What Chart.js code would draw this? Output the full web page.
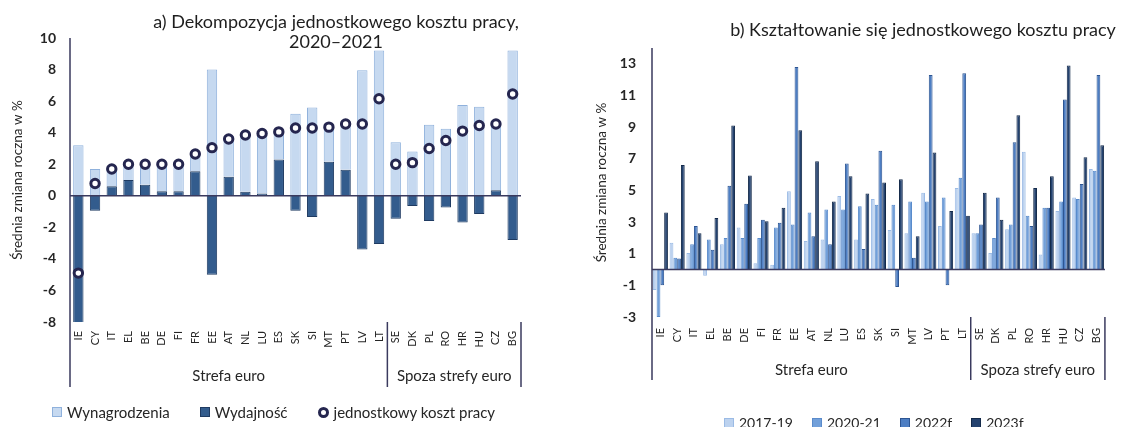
<!DOCTYPE html>
<html lang="pl">
<head>
<meta charset="utf-8">
<script src="https://cdn.jsdelivr.net/npm/chart.js@4.4.1/dist/chart.umd.min.js"></script>
<style>
body { margin: 0; background: #fff; font-family: Lato, sans-serif; }
#wrap { position: relative; width: 1121px; height: 427px; overflow: hidden; }
.box { position: absolute; top: 0; height: 427px; }
#boxA { left: 0; width: 560px; }
#boxB { left: 570px; width: 551px; }
.legend { position: absolute; display: flex; align-items: center; font-size: 14px; color: #262626; white-space: nowrap; }
.legend .item { display: flex; align-items: center; }
.legend i { display: inline-block; box-sizing: border-box; width: 10px; height: 10px; margin-right: 5px; border: 1px solid; }
.legend i.dot { border-radius: 50%; border-width: 3px; width: 11px; height: 11px; background: #fff; }
</style>
</head>
<body>
<div id="wrap">
  <div class="box" id="boxA"><canvas id="chartA"></canvas></div>
  <div class="box" id="boxB"><canvas id="chartB"></canvas></div>
  <div class="legend" id="legendA" style="left:52px; top:403px; font-size:15px;"></div>
  <div class="legend" id="legendB" style="left:724px; top:414px;"></div>
</div>
<script>
// a) dekompozycja 2020-2021
const krajeA = ["IE","CY","IT","EL","BE","DE","FI","FR","EE","AT","NL","LU","ES","SK","SI","MT","PT","LV","LT","SE","DK","PL","RO","HR","HU","CZ","BG"];
const wynagrodzenia = [3.2, 1.7, 1.1, 1.0, 1.3, 1.7, 1.7, 1.1, 8.0, 2.55, 3.65, 3.8, 1.8, 5.2, 5.6, 2.2, 2.9, 7.95, 9.2, 3.4, 2.8, 4.5, 4.25, 5.75, 5.65, 4.25, 9.2];
const wydajnosc = [-8.1, -0.95, 0.6, 1.0, 0.7, 0.28, 0.28, 1.55, -5.0, 1.2, 0.25, 0.15, 2.3, -0.95, -1.35, 2.15, 1.65, -3.4, -3.05, -1.45, -0.65, -1.6, -0.75, -1.7, -1.15, 0.35, -2.8];
const jkp = [-4.9, 0.78, 1.7, 2.0, 2.0, 2.0, 2.0, 2.65, 3.05, 3.6, 3.85, 3.95, 4.05, 4.3, 4.3, 4.35, 4.55, 4.55, 6.15, 2.0, 2.1, 3.0, 3.5, 4.1, 4.45, 4.55, 6.45];
const ticksA = [-8, -6, -4, -2, 0, 2, 4, 6, 8, 10];

// b) ksztaltowanie sie jednostkowego kosztu pracy
const krajeB = ["IE","CY","IT","EL","BE","DE","FI","FR","EE","AT","NL","LU","ES","SK","SI","MT","LV","PT","LT","SE","DK","PL","RO","HR","HU","CZ","BG"];
const lata = ["2017-19", "2020-21", "2022f", "2023f"];
const k2017_19 = [-1.3, 1.7, 1.05, -0.4, 1.6, 2.65, 0.4, 0.3, 4.95, 1.8, 1.9, 4.65, 1.9, 4.45, 2.5, 2.3, 4.85, 2.75, 5.15, 2.3, 1.05, 2.55, 7.45, 0.95, 3.7, 4.55, 6.35];
const k2020_21 = [-3.0, 0.75, 1.6, 1.9, 2.0, 2.0, 2.0, 2.65, 2.85, 3.6, 3.8, 3.8, 4.0, 4.1, 4.1, 4.3, 4.3, 4.55, 5.8, 2.3, 2.0, 2.85, 3.4, 3.9, 4.3, 4.45, 6.25];
const k2022f = [-1.0, 0.7, 2.75, 1.25, 5.3, 4.15, 3.15, 2.95, 12.8, 2.1, 1.6, 6.7, 1.3, 7.5, -1.1, 0.75, 12.3, -1.0, 12.4, 2.85, 4.55, 8.05, 2.75, 3.9, 10.75, 5.4, 12.3];
const k2023f = [3.6, 6.6, 2.3, 3.25, 9.1, 5.95, 3.05, 3.9, 8.8, 6.85, 4.3, 5.9, 4.8, 5.5, 5.7, 2.1, 7.4, 3.7, 3.4, 4.85, 3.15, 9.75, 5.15, 5.9, 12.9, 7.1, 7.85];
const ticksB = [-3, -1, 1, 3, 5, 7, 9, 11, 13];

const grupy = ["Strefa euro", "Spoza strefy euro"];
const grupyIle = [19, 8];

const osX = "#3a3a5e";

/*linia zero, os pionowa i podzial na grupy krajow*/
const osiePlugin = {
    id: "osie",
    afterDatasetsDraw(chart, args, o) {
        const ctx = chart.ctx;
        const area = chart.chartArea;
        const x = chart.scales.x, y = chart.scales.y;
        const pol = (x.getPixelForValue(1) - x.getPixelForValue(0)) / 2;
        const dol = area.bottom + o.glebokosc;
        ctx.save();
        ctx.strokeStyle = osX;
        ctx.lineWidth = 1.5;
        const y0 = y.getPixelForValue(0);
        ctx.beginPath();
        ctx.moveTo(area.left, y0); ctx.lineTo(area.right, y0);
        ctx.moveTo(area.left, area.top); ctx.lineTo(area.left, dol);
        ctx.stroke();
        ctx.font = o.font;
        ctx.fillStyle = "#262626";
        ctx.textAlign = "center";
        ctx.textBaseline = "middle";
        let start = 0;
        for (let i = 0; i < grupy.length; i++) {
            const koniec = start + grupyIle[i];
            const xa = x.getPixelForValue(start) - pol;
            const xb = x.getPixelForValue(koniec - 1) + pol;
            ctx.beginPath();
            ctx.moveTo(xb, area.bottom); ctx.lineTo(xb, dol);
            ctx.stroke();
            ctx.fillText(grupy[i], (xa + xb) / 2, area.bottom + o.tekstY);
            start = koniec;
        }
        ctx.restore();
    }
};

const tytulPlugin = {
    id: "tytul",
    afterDraw(chart, args, o) {
        const ctx = chart.ctx;
        ctx.save();
        ctx.font = o.font;
        ctx.fillStyle = "#1e1e1e";
        ctx.textAlign = "center";
        ctx.textBaseline = "middle";
        o.linie.forEach((t, i) => ctx.fillText(t, o.x, o.y + i * o.odstep));
        ctx.restore();
    }
};

function legenda(id, chart) {
    const el = document.getElementById(id);
    chart.data.datasets.forEach((ds, i) => {
        const item = document.createElement("span");
        item.className = "item";
        if (i < chart.data.datasets.length - 1) item.style.marginRight = chart.options.plugins.htmlLegenda.odstep + "px";
        const m = document.createElement("i");
        if (ds.type === "line") {
            m.className = "dot";
            m.style.borderColor = ds.borderColor;
        } else {
            m.style.background = ds.backgroundColor;
            m.style.borderColor = ds.borderColor;
        }
        item.appendChild(m);
        item.appendChild(document.createTextNode(ds.label));
        el.appendChild(item);
    });
}

function osY(szer, ticks, min, max, pad, tytPad) {
    return {
        min: min, max: max, stacked: true,
        afterFit: s => { s.width = szer; },
        afterBuildTicks: s => { s.ticks = ticks.map(v => ({ value: v })); },
        grid: { display: false, drawTicks: false },
        border: { display: false },
        ticks: { padding: pad, color: "#262626", font: { family: "Lato", size: 14, weight: "bold" } },
        title: { display: true, text: "Średnia zmiana roczna w %", color: "#262626",
            font: { family: "Lato", size: 13.5 }, padding: { top: tytPad, bottom: 0 } }
    };
}

function osXkat(pad) {
    return {
        stacked: true,
        afterFit: s => { s.height = 65; },
        grid: { display: false, drawTicks: false },
        border: { display: false },
        ticks: { autoSkip: false, minRotation: 90, maxRotation: 90, padding: pad, color: "#262626",
            font: { family: "Lato", size: 11 } }
    };
}

const configA = {
    type: "bar",
    data: {
        labels: krajeA,
        datasets: [
            { label: "Wynagrodzenia", data: wynagrodzenia, order: 2, backgroundColor: "#c6d9f0", borderColor: "#8fb1dc", borderWidth: 1, barPercentage: 0.62, categoryPercentage: 1 },
            { label: "Wydajność", data: wydajnosc, order: 1, backgroundColor: "#335c8d", borderColor: "#1f3b62", borderWidth: 1, barPercentage: 0.62, categoryPercentage: 1 },
            { type: "line", label: "jednostkowy koszt pracy", data: jkp, order: 0, showLine: false,
              pointRadius: 4.2, pointBorderWidth: 3, pointBackgroundColor: "#ffffff", borderColor: "#25264f", pointBorderColor: "#25264f" }
        ]
    },
    options: {
        responsive: true, maintainAspectRatio: false, animation: false,
        layout: { padding: { left: 0, right: 39, top: 38, bottom: 40 } },
        scales: { x: osXkat(9), y: osY(70, ticksA, -8, 10, 14, 10) },
        plugins: {
            legend: { display: false }, tooltip: { enabled: false },
            osie: { glebokosc: 65, tekstY: 54, font: "15px Lato" },
            tytul: { linie: ["a) Dekompozycja jednostkowego kosztu pracy,", "2020–2021"], x: 336, y: 22, odstep: 20, font: "18px Lato" },
            htmlLegenda: { odstep: 30 }
        }
    },
    plugins: [osiePlugin, tytulPlugin]
};

const koloryB = ["#bcd2ef", "#72a0da", "#4d7ec3", "#24426f"];
const ramkiB = ["#9bbbe5", "#5a8bcb", "#2d5592", "#142a4a"];
const serieB = [k2017_19, k2020_21, k2022f, k2023f];

const configB = {
    type: "bar",
    data: {
        labels: krajeB,
        datasets: lata.map((l, i) => ({
            label: l, data: serieB[i], backgroundColor: koloryB[i], borderColor: ramkiB[i], borderWidth: 1,
            barPercentage: 1, categoryPercentage: 0.9
        }))
    },
    options: {
        responsive: true, maintainAspectRatio: false, animation: false,
        layout: { padding: { left: 0, right: 14, top: 48, bottom: 45 } },
        scales: { x: Object.assign(osXkat(11), { stacked: false }), y: Object.assign(osY(82, ticksB, -3, 14, 16, 24), { stacked: false }) },
        plugins: {
            legend: { display: false }, tooltip: { enabled: false },
            osie: { glebokosc: 63, tekstY: 53, font: "15px Lato" },
            tytul: { linie: ["b) Kształtowanie się jednostkowego kosztu pracy"], x: 353, y: 30, odstep: 20, font: "18px Lato" },
            htmlLegenda: { odstep: 19 }
        }
    },
    plugins: [osiePlugin, tytulPlugin]
};

window.onload = (function () {
    const chartA = new Chart(document.getElementById("chartA"), configA);
    const chartB = new Chart(document.getElementById("chartB"), configB);
    legenda("legendA", chartA);
    legenda("legendB", chartB);
});
</script>
</body>
</html>
